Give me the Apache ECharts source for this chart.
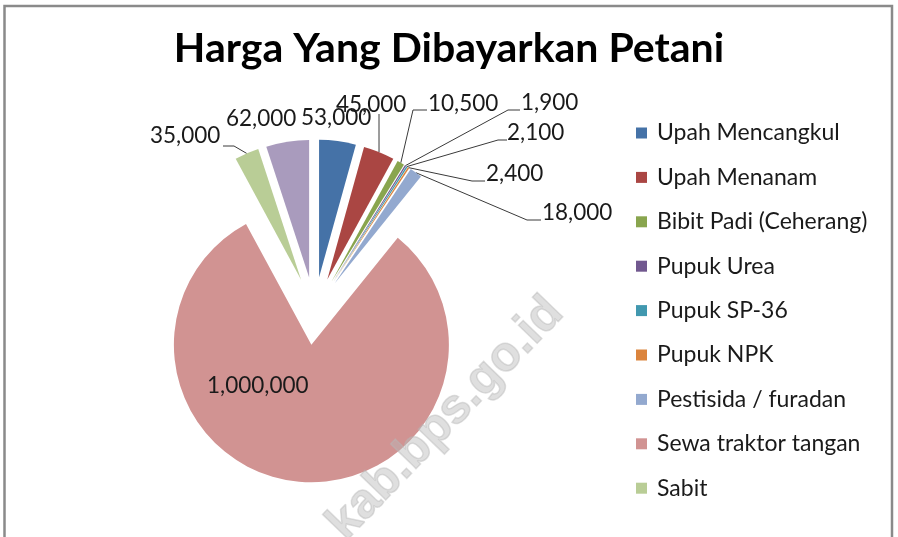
<!DOCTYPE html>
<html>
<head>
<meta charset="utf-8">
<script src="https://cdn.jsdelivr.net/npm/echarts@6/dist/echarts.min.js"></script>
<style>
  html, body { margin: 0; padding: 0; background: #fff; }
  #chart { width: 898px; height: 537px; }
</style>
</head>
<body>
<div id="chart"></div>
<script>
// data
const categories = ['Upah Mencangkul', 'Upah Menanam', 'Bibit Padi (Ceherang)', 'Pupuk Urea', 'Pupuk SP-36',
  'Pupuk NPK', 'Pestisida / furadan', 'Sewa traktor tangan', 'Sabit', 'Lain-lain']
const values = [53000, 45000, 10500, 1900, 2100, 2400, 18000, 1000000, 35000, 62000]
const legendNames = categories.slice(0, 9)   // the 10th entry does not fit in the legend box
const colors = ['#4572A7', '#AA4643', '#89A54E', '#71588F', '#4198AF', '#DB843D', '#93A9CF', '#D19392', '#B9CD96', '#A99BBD']

// layout
const cx = 314.5, cy = 311, radius = 137.5, explode = 34
const labelPos = [[301, 118], [336, 105], [428, 104], [521, 103], [507, 133], [486, 174], [542, 213],
  [207, 386], [150, 136], [226, 119]]
// leader line bends (after the anchor on the slice)
const leader = {
  1: [[379, 130], [379, 114]],
  2: [[413, 110], [427, 110]],
  3: [[508, 110], [520, 110]],
  4: [[498, 140], [507, 140]],
  5: [[472, 181], [485, 181]],
  6: [[527, 220], [541, 220]],
  8: [[234, 146], [223, 146]]
}

const total = values.reduce((a, b) => a + b, 0)
// anchor = middle of the outer arc of the exploded slice
function anchor(i) {
  let before = 0
  for (let k = 0; k < i; k++) before += values[k]
  const a = (before + values[i] / 2) / total * Math.PI * 2
  const r = radius + explode
  return [cx + r * Math.sin(a), cy - r * Math.cos(a)]
}

const fmt = v => v.toLocaleString('en-US')

let myChart = echarts.init(document.getElementById('chart'))
const option = {
  animation: false,
  color: colors,
  title: {
    text: 'Harga Yang Dibayarkan Petani',
    left: 'center',
    top: 23,
    textStyle: { fontFamily: 'Lato', fontWeight: 'bold', fontSize: 41, color: '#000' }
  },
  legend: {
    orient: 'vertical',
    left: 636,
    top: 121,
    padding: 0,
    data: legendNames,
    icon: 'rect',
    itemWidth: 11,
    itemHeight: 11,
    itemGap: 20.4,
    selectedMode: false,
    textStyle: { fontFamily: 'Lato', fontSize: 23, lineHeight: 24, color: '#1a1a1a', padding: [0, 0, 0, 5] }
  },
  graphic: [
    {
      type: 'rect', silent: true, z: 100,
      shape: { x: 4.5, y: 6, width: 887.5, height: 600 },
      style: { fill: 'none', stroke: '#8a8a8a', lineWidth: 2.5 }
    },
    {
      type: 'text', silent: true, z: 100,
      x: 573, y: 322, rotation: 46 * Math.PI / 180,
      style: {
        text: 'kab.bps.go.id', align: 'right', verticalAlign: 'bottom',
        font: 'bold 49px "Liberation Sans", Arial, sans-serif',
        fill: 'rgba(185,185,185,0.45)',
        stroke: 'rgba(185,185,185,0.45)', lineWidth: 1.5
      }
    }
  ],
  series: [
    {
      // exploded slices
      type: 'pie',
      center: [cx, cy],
      radius: radius,
      startAngle: 90,
      clockwise: true,
      selectedMode: 'multiple',
      selectedOffset: explode,
      silent: true,
      emphasis: { disabled: true },
      label: { show: false },
      labelLine: { show: false },
      data: categories.map((name, i) => ({ name: name, value: values[i], selected: true }))
    },
    {
      // same data, invisible slices, carries the value labels
      type: 'pie',
      center: [cx, cy],
      radius: radius,
      startAngle: 90,
      clockwise: true,
      silent: true,
      avoidLabelOverlap: false,
      emphasis: { disabled: true },
      itemStyle: { color: 'rgba(0,0,0,0)' },
      label: {
        show: true,
        position: 'outside',
        fontFamily: 'Lato',
        fontSize: 22.5,
        color: '#1a1a1a',
        formatter: p => fmt(p.value)
      },
      labelLine: { show: true, smooth: false, lineStyle: { color: '#3a3a3a', width: 1 } },
      labelLayout: function (p) {
        const i = p.dataIndex
        const out = { x: labelPos[i][0], y: labelPos[i][1], align: 'left', verticalAlign: 'middle', hideOverlap: false }
        if (leader[i]) out.labelLinePoints = [anchor(i)].concat(leader[i])
        return out
      },
      data: categories.map((name, i) => ({
        name: name,
        value: values[i],
        labelLine: { show: !!leader[i] }
      }))
    }
  ]
}
myChart.setOption(option)
</script>
</body>
</html>
